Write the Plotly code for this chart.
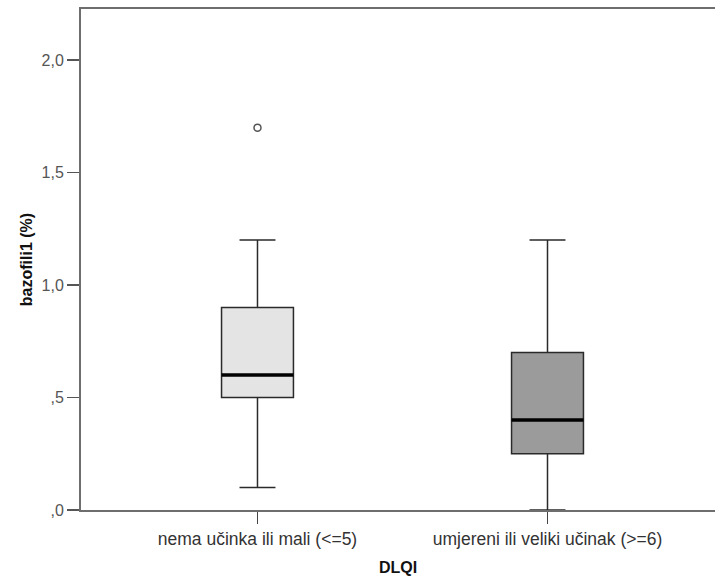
import plotly.graph_objects as go

categories = ["nema učinka ili mali (<=5)", "umjereni ili veliki učinak (>=6)"]
q1 = [0.5, 0.25]
median = [0.6, 0.4]
q3 = [0.9, 0.7]
lower_whisker = [0.1, 0.0]
upper_whisker = [1.2, 1.2]
outlier_x = [0]
outlier_y = [1.7]
fills = ["#e4e4e4", "#9b9b9b"]
y_tickvals = [0, 0.5, 1.0, 1.5, 2.0]
y_ticktext = [",0", ",5", "1,0", "1,5", "2,0"]

BOX_W = 0.248
FONT = "Liberation Sans, Arial, sans-serif"

fig = go.Figure()
for i, cat in enumerate(categories):
    fig.add_trace(go.Box(
        x=[i], q1=[q1[i]], median=[median[i]], q3=[q3[i]],
        lowerfence=[lower_whisker[i]], upperfence=[upper_whisker[i]],
        width=BOX_W, whiskerwidth=0.5,
        fillcolor=fills[i], line=dict(color="#2a2a2a", width=1.5),
        boxpoints=False, showlegend=False, hoverinfo="skip",
    ))
    # thick median line
    fig.add_trace(go.Scatter(
        x=[i - BOX_W / 2, i + BOX_W / 2], y=[median[i], median[i]],
        mode="lines", line=dict(color="black", width=3.5),
        showlegend=False, hoverinfo="skip",
    ))

fig.add_trace(go.Scatter(
    x=outlier_x, y=outlier_y, mode="markers",
    marker=dict(symbol="circle-open", size=7, color="#555555", line=dict(width=1.5)),
    showlegend=False, hoverinfo="skip",
))

fig.update_layout(
    width=715, height=576,
    margin=dict(l=81, r=0, t=9, b=65.5, autoexpand=False),
    paper_bgcolor="white", plot_bgcolor="white",
    font=dict(family=FONT, size=16, color="#333333"),
    xaxis=dict(
        range=[-0.6086, 1.5776], tickvals=[0, 1], ticktext=categories,
        showgrid=False, zeroline=False, showline=True, linecolor="#6e6e6e", linewidth=2,
        mirror=True, ticks="outside", ticklen=12, tickcolor="#444444", tickwidth=1.5,
        tickfont=dict(size=17.5, color="#333333"),
        title=dict(text="<b>DLQI</b>", font=dict(size=16, color="#111111"), standoff=15),
        automargin=False,
    ),
    yaxis=dict(
        range=[0, 2.2274], tickvals=y_tickvals, ticktext=y_ticktext,
        showgrid=False, zeroline=False, showline=True, linecolor="#6e6e6e", linewidth=2,
        ticks="outside", ticklen=12, tickcolor="#555555", tickwidth=1.5,
        tickfont=dict(size=16, color="#555555"),
        title=dict(text="<b>bazofili1 (%)</b>", font=dict(size=16, color="#111111"), standoff=5),
        automargin=False,
    ),
)

fig.write_html(
    "out.html",
    config={"displayModeBar": False, "staticPlot": True},
    post_script="document.body.style.margin='0';document.body.style.overflow='hidden';",
)
